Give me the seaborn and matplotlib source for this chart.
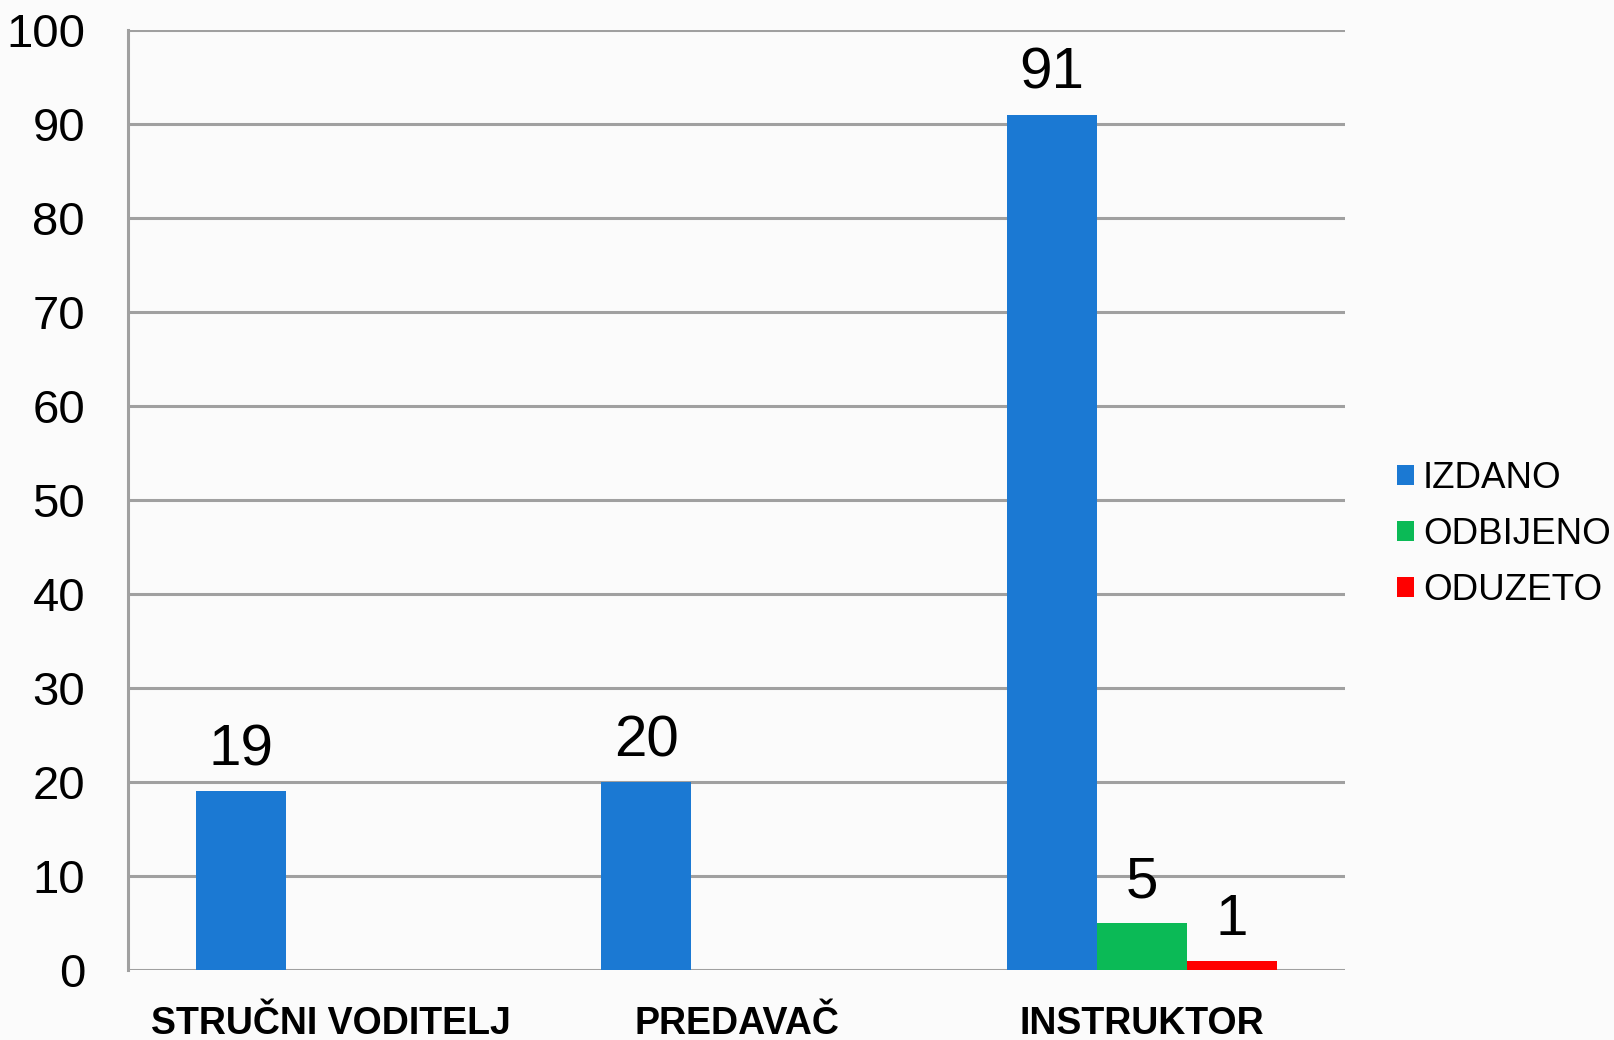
import pandas as pd
import matplotlib.pyplot as plt
import seaborn as sns

categories = ["STRUČNI VODITELJ", "PREDAVAČ", "INSTRUKTOR"]
statuses = ["IZDANO", "ODBIJENO", "ODUZETO"]
izdano = [19, 20, 91]
odbijeno = [None, None, 5]
oduzeto = [None, None, 1]
colors = ["#1B79D3", "#0BBA56", "#FF0000"]

rows = []
for cat, v in zip(categories, izdano):
    rows.append((cat, "IZDANO", v))
for cat, v in zip(categories, odbijeno):
    if v is not None:
        rows.append((cat, "ODBIJENO", v))
for cat, v in zip(categories, oduzeto):
    if v is not None:
        rows.append((cat, "ODUZETO", v))
df = pd.DataFrame(rows, columns=["kategorija", "status", "broj"])

sns.set_style("white")
plt.rcParams['font.family'] = ['Liberation Sans', 'DejaVu Sans']
plt.rcParams['text.color'] = 'black'

fig = plt.figure(figsize=(16.15, 10.4), dpi=100)
fig.patch.set_facecolor("#FBFBFB")
ax = fig.add_axes([0.0793, 0.0673, 0.8328 - 0.0793, 0.9712 - 0.0673])
ax.set_facecolor("#FBFBFB")

sns.barplot(data=df, x="kategorija", y="broj", hue="status", order=categories,
            hue_order=statuses, palette=colors, width=0.666, ax=ax,
            saturation=1, edgecolor="none", legend=True)

# value labels above bars
for cont in ax.containers:
    ax.bar_label(cont, fontsize=42, padding=10, color="black")

ax.set_ylim(0, 100)
ax.set_xlim(-0.5, 2.5)
ax.set_yticks(range(0, 101, 10))
ax.set_xlabel("")
ax.set_ylabel("")

grid_c = "#A0A0A0"
ax.yaxis.grid(True, color=grid_c, linewidth=2.2)
ax.set_axisbelow(True)
for s in ["top", "right", "bottom"]:
    ax.spines[s].set_visible(False)
ax.spines["left"].set_color(grid_c)
ax.spines["left"].set_linewidth(2.2)

ax.tick_params(axis="y", length=11, width=2.2, color=grid_c, labelsize=34, pad=20,
               labelcolor="black")
ax.tick_params(axis="x", which="major", length=0, labelsize=27, pad=26, labelcolor="black")
ax.set_xticks([-0.5, 0.5, 1.5, 2.5], minor=True)
ax.tick_params(axis="x", which="minor", length=7, width=1.5, color=grid_c, direction="out")
for lbl in ax.get_xticklabels():
    lbl.set_fontweight("bold")

ax.legend_.remove()
leg = fig.legend(*ax.get_legend_handles_labels(), loc="center left",
                 bbox_to_anchor=(0.8535, 0.486), frameon=False, fontsize=26.5,
                 handlelength=0.46, handleheight=0.46, handletextpad=0.25,
                 labelspacing=0.58, borderpad=0, labelcolor="black")

plt.savefig("out.png", dpi=100, facecolor=fig.get_facecolor())
